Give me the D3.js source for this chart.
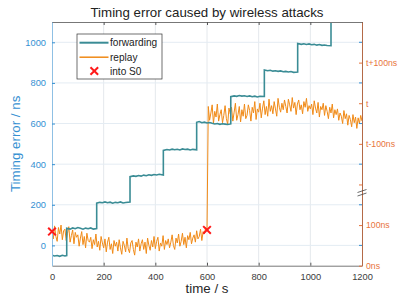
<!DOCTYPE html>
<html>
<head>
<meta charset="utf-8">
<script src="https://cdn.jsdelivr.net/npm/d3@7/dist/d3.min.js"></script>
<style>
  body { margin: 0; background: #fff; }
  svg { display: block; font-family: "Liberation Sans", Arial, sans-serif; }
</style>
</head>
<body>
<div id="chart"></div>
<script>
// x ticks
const xTicks = [0, 200, 400, 600, 800, 1000, 1200];
// left axis (forwarding, ns)
const leftTicks = [0, 200, 400, 600, 800, 1000];
// right axis (replay)
const rightTicks = [0, 100, 200, 300, 400, 500];
const rightLabels = ["0ns", "100ns", "", "t-100ns", "t", "t+100ns"];

// forwarding: time (s) / timing error (ns)
const fwdTime = [0, 10, 20, 30, 40, 50, 57,
  57, 70, 80, 90, 100, 110, 120, 130, 140, 150, 160, 173,
  173, 185, 195, 205, 215, 225, 235, 245, 255, 265, 275, 285, 302,
  302, 315, 325, 335, 345, 355, 365, 375, 385, 395, 405, 415, 431,
  431, 445, 455, 465, 475, 485, 495, 505, 515, 525, 535, 545, 560,
  560, 570, 580, 590, 600, 610, 620, 630, 640, 650, 660, 670, 680, 692,
  692, 705, 715, 725, 735, 745, 755, 765, 775, 785, 795, 805, 822,
  822, 835, 845, 855, 865, 875, 885, 895, 905, 915, 925, 935, 951,
  951, 965, 975, 985, 995, 1005, 1015, 1025, 1035, 1045, 1055, 1065, 1080,
  1080, 1100, 1200];
const fwdValue = [-48, -52, -50, -54, -49, -52, -50,
  84, 80, 86, 82, 88, 84, 80, 85, 82, 86, 80, 83,
  208, 212, 210, 214, 210, 213, 208, 212, 210, 214, 209, 211, 213,
  338, 342, 340, 344, 341, 346, 343, 348, 345, 349, 347, 350, 346,
  468, 472, 470, 474, 471, 473, 470, 475, 472, 474, 470, 473, 471,
  606, 610, 604, 607, 603, 605, 601, 598, 600, 596, 599, 597, 595, 598,
  732, 736, 734, 738, 735, 737, 733, 736, 732, 735, 731, 734, 733,
  864, 860, 862, 858, 860, 857, 859, 855, 857, 854, 856, 852, 854,
  994, 990, 993, 989, 992, 988, 990, 986, 989, 985, 987, 984, 983,
  1118, 1122, 1130];

// replay: sampled every 5 s from 0 to 1200 s (right axis, ns)
const replayStep = 5;
const replayValue = [
  84, 66, 98, 72, 60, 94, 78, 100, 64, 86,
  90, 62, 80, 96, 58, 74, 88, 54, 82, 70,
  76, 48, 68, 84, 52, 72, 44, 80, 62, 58,
  70, 42, 64, 52, 78, 46, 60, 38, 72, 56,
  44, 66, 34, 58, 70, 40, 54, 30, 62, 48,
  58, 36, 64, 44, 28, 60, 50, 34, 68, 42,
  32, 56, 62, 40, 26, 58, 46, 66, 36, 54,
  64, 40, 58, 30, 68, 50, 38, 62, 46, 72,
  42, 60, 70, 36, 56, 48, 74, 40, 62, 52,
  66, 44, 58, 76, 50, 40, 68, 56, 78, 48,
  60, 80, 52, 70, 44, 74, 64, 82, 54, 68,
  76, 58, 86, 66, 72, 90, 62, 84, 78, 94,
  88,
  392, 358, 376, 396, 350, 380, 366, 398, 356, 372,
  384, 352, 370, 394, 362, 348, 388, 374, 390, 356,
  378, 400, 358, 372, 392, 354, 384, 368, 398, 362,
  370, 396, 382, 356, 390, 376, 404, 360, 386, 378,
  400, 364, 388, 406, 372, 392, 368, 410, 380, 394,
  374, 404, 386, 368, 412, 390, 378, 400, 384, 408,
  392, 376, 410, 396, 380, 414, 388, 402, 372, 398,
  408, 384, 396, 374, 404, 390, 412, 380, 394, 386,
  398, 372, 406, 388, 376, 402, 366, 392, 384, 400,
  370, 394, 380, 362, 390, 376, 398, 364, 384, 372,
  386, 358, 376, 368, 350, 382, 362, 374, 346, 370,
  360, 342, 372, 352, 366, 338, 364, 350, 370, 356];

// "into S0" markers (time s, right axis ns)
const s0Time = [0, 600];
const s0Value = [84, 88];

const W = 399, H = 299;
const margin = {top: 22, right: 37, bottom: 33.3, left: 52};
const blue = "#3590d2", orange = "#e8743b";
const fwdColor = "#3a8c95", replayColor = "#f08a17";
const fontFam = "Liberation Sans, Arial, sans-serif";

const svg = d3.select("#chart").append("svg")
  .attr("width", W).attr("height", H);

const x = d3.scaleLinear().domain([0, 1200]).range([margin.left, W - margin.right]);
const yL = d3.scaleLinear().domain([-100, 1100]).range([H - margin.bottom, margin.top]);
const yR = d3.scaleLinear().domain([0, 600]).range([H - margin.bottom, margin.top]);

const x0 = x.range()[0], x1 = x.range()[1];
const yb = yL.range()[0], yt = yL.range()[1];

svg.append("defs").append("clipPath").attr("id", "clip")
  .append("rect").attr("x", x0).attr("y", yt).attr("width", x1 - x0).attr("height", yb - yt);

// grid
svg.append("g").selectAll("line").data(xTicks.slice(1, -1)).join("line")
  .attr("x1", d => x(d)).attr("x2", d => x(d)).attr("y1", yt).attr("y2", yb)
  .attr("stroke", "#e4e8ec").attr("stroke-width", 1);
svg.append("g").selectAll("line").data(leftTicks).join("line")
  .attr("x1", x0).attr("x2", x1).attr("y1", d => yL(d)).attr("y2", d => yL(d))
  .attr("stroke", "#e4ecf3").attr("stroke-width", 1);

// lines
const plot = svg.append("g").attr("clip-path", "url(#clip)");
const replayLine = d3.line().x((d, i) => x(i * replayStep)).y(d => yR(d));
plot.append("path").datum(replayValue)
  .attr("d", replayLine).attr("fill", "none")
  .attr("stroke", replayColor).attr("stroke-width", 1).attr("stroke-linejoin", "round");
const fwdLine = d3.line().x((d, i) => x(fwdTime[i])).y(d => yL(d));
plot.append("path").datum(fwdValue)
  .attr("d", fwdLine).attr("fill", "none")
  .attr("stroke", fwdColor).attr("stroke-width", 1.6);

// axes
const axBottom = svg.append("g").attr("transform", `translate(0,${yb})`)
  .call(d3.axisBottom(x).tickValues(xTicks).tickFormat(d3.format("d"))
    .tickSizeInner(-3).tickSizeOuter(0).tickPadding(8));
axBottom.select(".domain").attr("stroke", "#777");
axBottom.selectAll(".tick line").attr("stroke", "#555");
axBottom.selectAll(".tick text").attr("fill", "#3c3c3c").attr("font-size", 9.3)
  .attr("font-family", fontFam);

const axTop = svg.append("g").attr("transform", `translate(0,${yt})`)
  .call(d3.axisTop(x).tickValues(xTicks).tickSizeInner(-3).tickSizeOuter(0).tickFormat(""));
axTop.select(".domain").attr("stroke", "#777");
axTop.selectAll(".tick line").attr("stroke", "#555");

const axLeft = svg.append("g").attr("transform", `translate(${x0},0)`)
  .call(d3.axisLeft(yL).tickValues(leftTicks).tickFormat(d3.format("d"))
    .tickSizeInner(-3).tickSizeOuter(0).tickPadding(6));
axLeft.select(".domain").attr("stroke", "#8fc0e4");
axLeft.selectAll(".tick line").attr("stroke", blue);
axLeft.selectAll(".tick text").attr("fill", blue).attr("font-size", 9.3)
  .attr("font-family", fontFam);

// left ticks mirrored on the right side
svg.append("g").selectAll("line").data(leftTicks).join("line")
  .attr("x1", x1 - 3).attr("x2", x1).attr("y1", d => yL(d)).attr("y2", d => yL(d))
  .attr("stroke", blue);

const axRight = svg.append("g").attr("transform", `translate(${x1},0)`)
  .call(d3.axisRight(yR).tickValues(rightTicks).tickSizeInner(-3).tickSizeOuter(0).tickPadding(4)
    .tickFormat((d, i) => rightLabels[i]));
axRight.select(".domain").attr("stroke", "#b46a48");
axRight.selectAll(".tick line").attr("stroke", orange);
axRight.selectAll(".tick text").attr("fill", orange).attr("font-size", 8.7)
  .attr("font-family", fontFam);

// axis break mark on right axis
const brk = svg.append("g").attr("stroke", "#444").attr("stroke-width", 0.8);
brk.append("line").attr("x1", x1 - 4.5).attr("y1", 192.5).attr("x2", x1 + 4.5).attr("y2", 189.5);
brk.append("line").attr("x1", x1 - 4.5).attr("y1", 196).attr("x2", x1 + 4.5).attr("y2", 193);

// into S0 markers
const cross = d3.symbol().type(d3.symbolTimes).size(40);
svg.append("g").selectAll("path").data(s0Value).join("path")
  .attr("d", cross)
  .attr("transform", (d, i) => `translate(${x(s0Time[i])},${yR(d)})`)
  .attr("fill", "none").attr("stroke", "#ff1a1a").attr("stroke-width", 2);

// title and labels
svg.append("text").attr("x", (x0 + x1) / 2).attr("y", 17)
  .attr("text-anchor", "middle").attr("font-size", 13.3).attr("fill", "#222")
  .text("Timing error caused by wireless attacks");
svg.append("text").attr("x", (x0 + x1) / 2).attr("y", 293)
  .attr("text-anchor", "middle").attr("font-size", 13.3).attr("fill", "#262626")
  .text("time / s");
svg.append("text")
  .attr("transform", `translate(20,${(yt + yb) / 2}) rotate(-90)`)
  .attr("text-anchor", "middle").attr("font-size", 13.3).attr("fill", blue)
  .text("Timing error / ns");

// legend
const lg = svg.append("g");
lg.append("rect").attr("x", 77).attr("y", 34).attr("width", 85).attr("height", 45)
  .attr("fill", "#fff").attr("stroke", "#333").attr("stroke-width", 0.7);
const legendItems = ["forwarding", "replay", "into S0"];
const rowY = [42.7, 57.2, 71];
lg.append("line").attr("x1", 79.5).attr("x2", 108.5).attr("y1", rowY[0]).attr("y2", rowY[0])
  .attr("stroke", fwdColor).attr("stroke-width", 2);
lg.append("line").attr("x1", 79.5).attr("x2", 108.5).attr("y1", rowY[1]).attr("y2", rowY[1])
  .attr("stroke", replayColor).attr("stroke-width", 1.5);
lg.append("path").attr("d", cross).attr("transform", `translate(94.3,${rowY[2]})`)
  .attr("fill", "none").attr("stroke", "#ff1a1a").attr("stroke-width", 2);
lg.selectAll("text").data(legendItems).join("text")
  .attr("x", 110).attr("y", (d, i) => rowY[i] + 3.6)
  .attr("font-size", 10.1).attr("fill", "#222")
  .text(d => d);
</script>
</body>
</html>
